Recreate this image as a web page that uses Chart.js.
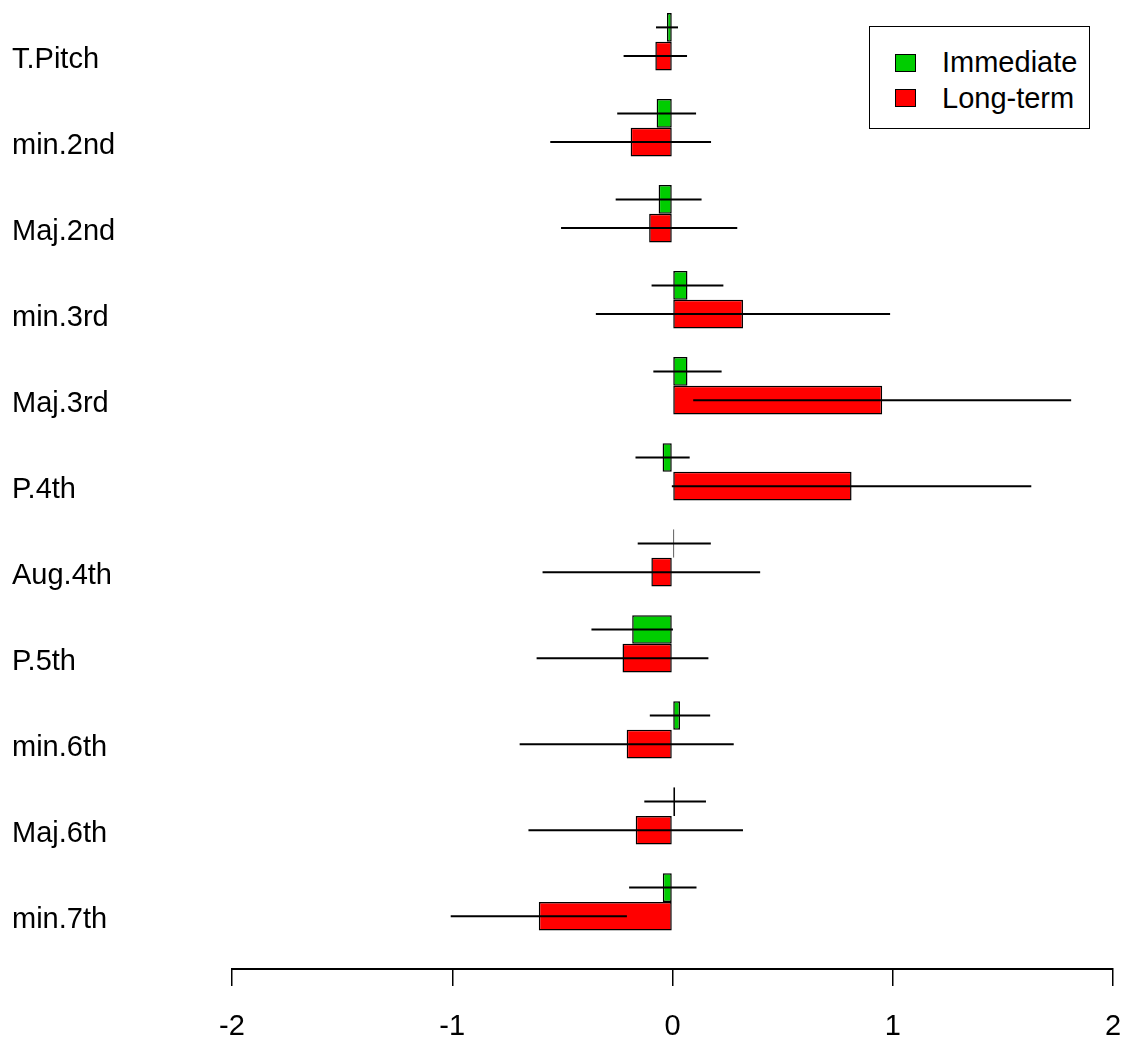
<!DOCTYPE html>
<html lang="en">
<head>
  <meta charset="UTF-8" />
  <title>Immediate vs Long-term</title>
  <script src="https://cdn.jsdelivr.net/npm/chart.js"></script>
  <style>
    body { margin: 0; background: #fff; font-family: "Liberation Sans", Arial, sans-serif; }
    #wrap { position: relative; width: 1127px; height: 1039px; }
    #legend {
      position: absolute; left: 869px; top: 26px; width: 221px; height: 103px;
      border: 1.5px solid #000; padding: 18px 0 0 25px; box-sizing: border-box; background: #fff;
    }
    .row { display: flex; align-items: center; height: 35.5px; font-size: 29px; color: #000; }
    .sw { width: 19px; height: 16px; border: 1px solid #000; margin-right: 26px; }
  </style>
</head>
<body>
  <div id="wrap">
    <canvas id="chart" width="1127" height="1039"></canvas>
    <div id="legend"></div>
  </div>

  <script>
    const categories = ['T.Pitch', 'min.2nd', 'Maj.2nd', 'min.3rd', 'Maj.3rd', 'P.4th',
                        'Aug.4th', 'P.5th', 'min.6th', 'Maj.6th', 'min.7th'];
    const seriesNames = ['Immediate', 'Long-term'];
    const seriesColors = ['#00CD00', '#FF0000'];

    const immediate    = [-0.025, -0.072, -0.063, 0.068, 0.068, -0.045, 0.008, -0.183, 0.034, 0.012, -0.044];
    const immediateErr = [0.05, 0.179, 0.195, 0.163, 0.155, 0.123, 0.166, 0.185, 0.137, 0.14, 0.153];
    const longTerm     = [-0.078, -0.19, -0.106, 0.32, 0.952, 0.813, -0.096, -0.227, -0.208, -0.167, -0.607];
    const longTermErr  = [0.144, 0.365, 0.4, 0.668, 0.858, 0.816, 0.494, 0.39, 0.486, 0.487, 0.4];

    const xTicks = [-2, -1, 0, 1, 2];

    const values = [immediate, longTerm];
    const errors = [immediateErr, longTermErr];

    Chart.defaults.font.family = '"Liberation Sans", Arial, sans-serif';
    Chart.defaults.font.size = 29;
    Chart.defaults.color = '#000';

    // horizontal error lines through the middle of each bar
    const errorBars = {
      id: 'errorBars',
      afterDatasetsDraw(chart) {
        const ctx = chart.ctx;
        const xs = chart.scales.x;
        ctx.save();
        ctx.strokeStyle = '#000';
        ctx.lineWidth = 2;
        chart.data.datasets.forEach((ds, di) => {
          const meta = chart.getDatasetMeta(di);
          meta.data.forEach((bar, i) => {
            const v = values[di][i], e = errors[di][i];
            ctx.beginPath();
            ctx.moveTo(xs.getPixelForValue(v - e), bar.y);
            ctx.lineTo(xs.getPixelForValue(v + e), bar.y);
            ctx.stroke();
          });
        });
        ctx.restore();
      }
    };

    // no extra room for the edge labels
    function noPadding(s) {
      s.paddingTop = 0; s.paddingBottom = 0; s.paddingLeft = 0; s.paddingRight = 0;
    }

    new Chart(document.getElementById('chart'), {
      type: 'bar',
      data: {
        datasets: seriesNames.map((name, di) => ({
          label: name,
          data: values[di].map((v, i) => ({ x: v, y: i })),
          backgroundColor: seriesColors[di],
          borderColor: '#000',
          borderWidth: 1.5,
          borderSkipped: false,
          categoryPercentage: 2 / 3,
          barPercentage: 1
        }))
      },
      options: {
        indexAxis: 'y',
        responsive: false,
        animation: false,
        layout: { autoPadding: false, padding: { left: 12, right: 14, top: 0, bottom: 0 } },
        plugins: { legend: { display: false }, tooltip: { enabled: false } },
        scales: {
          y: {
            type: 'linear',
            reverse: true,
            offset: false,
            min: -0.485,
            max: 10.78,
            afterBuildTicks: s => { s.ticks = categories.map((c, i) => ({ value: i })); },
            afterFit: s => { s.width = 220; noPadding(s); },
            ticks: {
              callback: v => categories[v],
              crossAlign: 'far',
              labelOffset: 18,
              autoSkip: false,
              padding: 0
            },
            grid: { display: false },
            border: { display: false }
          },
          x: {
            type: 'linear',
            min: -2,
            max: 2,
            afterBuildTicks: s => { s.ticks = xTicks.map(v => ({ value: v })); },
            afterFit: s => { s.height = 70; noPadding(s); },
            ticks: { callback: v => String(v), padding: 24 },
            grid: { drawOnChartArea: false, drawTicks: true, tickLength: 17, color: '#000', lineWidth: 1.5 },
            border: { display: true, color: '#000', width: 2 }
          }
        }
      },
      plugins: [errorBars]
    });

    const legend = document.getElementById('legend');
    seriesNames.forEach((name, i) => {
      const row = document.createElement('div');
      row.className = 'row';
      const sw = document.createElement('span');
      sw.className = 'sw';
      sw.style.background = seriesColors[i];
      row.appendChild(sw);
      row.appendChild(document.createTextNode(name));
      legend.appendChild(row);
    });
  </script>
</body>
</html>
